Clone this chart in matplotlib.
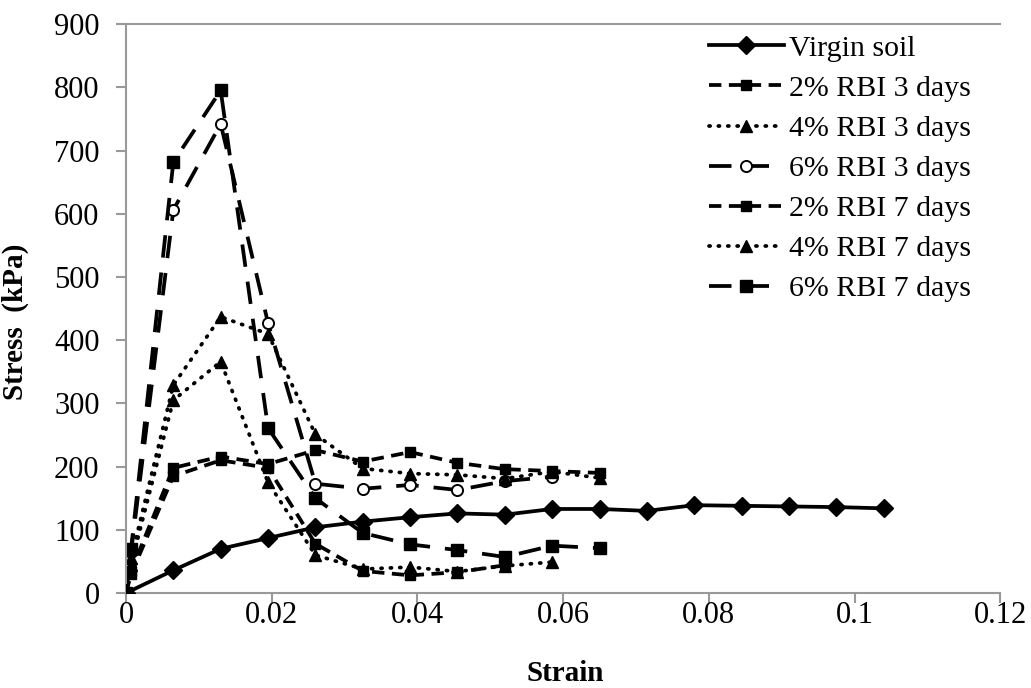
import matplotlib
matplotlib.use("Agg")
import matplotlib.pyplot as plt

plt.rcParams['font.family'] = ['Liberation Serif', 'DejaVu Serif']

# strain steps
strain = [0, 0.0065, 0.013, 0.0195, 0.026, 0.0325, 0.039, 0.0455, 0.052,
          0.0585, 0.065, 0.0715, 0.078, 0.0845, 0.091, 0.0975, 0.104]
early = [0, 0.0007]  # first two readings of the treated samples

virgin = [0, 36, 70, 87, 104, 113, 120, 126, 124, 133, 133, 130, 139, 138,
          137, 136, 134]
rbi2_3d = [0, 30, 185, 210, 198, 78, 35, 28, 33, 44]
rbi4_3d = [0, 45, 305, 366, 175, 60, 38, 41, 34, 43, 49]
rbi6_3d = [0, 65, 606, 742, 427, 173, 165, 171, 163, 177, 184]
rbi2_7d = [0, 35, 198, 216, 204, 226, 208, 223, 206, 196, 193, 190]
rbi4_7d = [0, 55, 329, 437, 410, 251, 197, 189, 187, 181, 192, 182]
rbi6_7d = [0, 70, 682, 795, 261, 150, 95, 77, 68, 57, 75, 71]

labels = ['Virgin soil', '2% RBI 3 days', '4% RBI 3 days', '6% RBI 3 days',
          '2% RBI 7 days', '4% RBI 7 days', '6% RBI 7 days']
xticks = [0, 0.02, 0.04, 0.06, 0.08, 0.1, 0.12]
xticklabels = ['0', '0.02', '0.04', '0.06', '0.08', '0.1', '0.12']
yticks = list(range(0, 901, 100))

med_dash = (0, (3.3, 2))
long_dash = (0, (6, 4))
dots = (0, (0.3, 2.2))

fig = plt.figure(figsize=(10.31, 6.88), dpi=100)
ax = fig.add_axes([0.1222, 0.138, 0.848, 0.827])

def xs(vals):
    return early + strain[1:len(vals) - 1]

lw = 2.7
ax.plot(strain, virgin, color='black', lw=lw, marker='D', ms=9,
        label=labels[0], zorder=5)
ax.plot(xs(rbi2_3d), rbi2_3d, color='black', lw=lw, ls=med_dash, marker='s',
        ms=7.5, label=labels[1])
ax.plot(xs(rbi4_3d), rbi4_3d, color='black', lw=lw, ls=dots,
        dash_capstyle='round', marker='^', ms=9, label=labels[2])
ax.plot(xs(rbi6_3d), rbi6_3d, color='black', lw=lw, ls=long_dash, marker='o',
        ms=8, mfc='white', mew=1.4, label=labels[3])
ax.plot(xs(rbi2_7d), rbi2_7d, color='black', lw=lw, ls=med_dash, marker='s',
        ms=7.5, label=labels[4])
ax.plot(xs(rbi4_7d), rbi4_7d, color='black', lw=lw, ls=dots,
        dash_capstyle='round', marker='^', ms=9, label=labels[5])
ax.plot(xs(rbi6_7d), rbi6_7d, color='black', lw=lw, ls=long_dash, marker='s',
        ms=8, label=labels[6])

ax.set_xlim(0, 0.12)
ax.set_ylim(0, 900)
ax.set_xticks(xticks)
ax.set_xticklabels(xticklabels)
ax.set_yticks(yticks)

for side in ['left', 'bottom', 'top']:
    ax.spines[side].set_color('#999999')
    ax.spines[side].set_linewidth(1.5)
ax.spines['right'].set_visible(False)
ax.tick_params(axis='both', colors='#999999', labelcolor='black',
               labelsize=22, width=1.5, length=7, direction='out')
ax.tick_params(axis='x', pad=-1)
ax.tick_params(axis='y', pad=12)

ax.set_xlabel('Strain', fontsize=21, fontweight='bold')
ax.set_ylabel('Stress  (kPa)', fontsize=21, fontweight='bold')
ax.xaxis.set_label_coords(0.502, -0.117)
ax.yaxis.set_label_coords(-0.111, 0.476)

leg = ax.legend(loc='upper left', bbox_to_anchor=(709 / 1031, 1 - 35 / 688),
                bbox_transform=fig.transFigure, frameon=False,
                fontsize=21.5, handlelength=2.5, handletextpad=0.17,
                labelspacing=0.44, borderaxespad=0, borderpad=0)

fig.savefig('out.png', dpi=100)
